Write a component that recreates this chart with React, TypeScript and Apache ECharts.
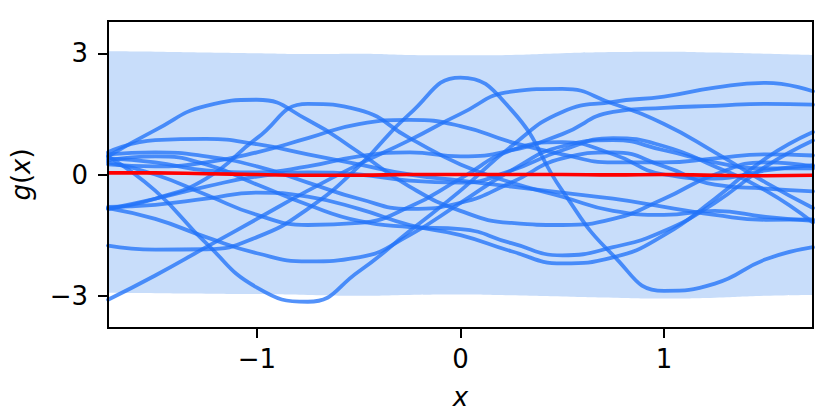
import React, { useEffect, useRef } from "react";
import * as echarts from "echarts";

const xs = [-1.732, -1.5, -1.25, -1.0, -0.75, -0.5, -0.25, 0, 0.25, 0.5, 0.75, 1.0, 1.25, 1.5, 1.732];

const bandUpper = [3.05, 3.04, 3.02, 3.0, 2.98, 2.99, 2.96, 2.95, 2.96, 3.0, 3.03, 3.04, 3.02, 2.99, 2.96];
const bandLower = [-2.93, -2.94, -2.95, -2.96, -2.98, -3.0, -2.98, -2.97, -2.99, -3.02, -3.05, -3.07, -3.05, -3.0, -2.98];
const meanLine = [0.04, 0.04, 0.02, 0.0, -0.02, -0.02, 0.0, 0.0, 0.0, 0.0, -0.01, 0.0, -0.02, -0.03, -0.02];

const s01 = [0.45, 1.1, 1.7, 1.85, 1.35, 0.55, -0.3, -0.9, -1.2, -1.25, -1.1, -0.6, 0.0, 0.3, 0.2];
const s02 = [-0.85, -0.6, -0.1, 0.9, 1.75, 1.6, 0.9, 0.25, -0.2, -0.55, -0.9, -1.0, -0.9, -1.05, -1.15];
const s03 = [-3.1, -2.5, -1.8, -1.1, -0.4, 0.25, 0.85, 1.5, 2.05, 2.12, 1.75, 1.25, 0.55, -0.2, -0.83];
const s04 = [0.45, -0.4, -1.7, -2.8, -3.15, -2.4, -1.4, -0.4, 0.7, 1.55, 1.8, 1.93, 2.15, 2.27, 2.06];
const s05 = [-0.83, -1.1, -1.55, -1.95, -2.15, -2.05, -1.5, -0.7, 0.1, 0.7, 0.85, 0.6, 0.3, 0.15, 0.15];
const s06 = [-1.76, -1.86, -1.85, -1.55, -0.85, 0.2, 1.5, 2.4, 1.6, -0.4, -2.0, -2.88, -2.7, -2.1, -1.8];
const s07 = [0.35, 0.45, 0.25, -0.25, -0.75, -1.15, -1.3, -1.35, -1.7, -2.0, -1.8, -1.4, -0.7, 0.2, 0.84];
const s08 = [-0.8, -0.75, -0.6, -0.45, -0.55, -0.85, -1.25, -1.5, -1.9, -2.2, -2.05, -1.5, -0.6, 0.4, 1.05];
const s09 = [0.55, 0.85, 0.88, 0.75, 0.5, 0.25, 0.0, -0.15, -0.3, -0.45, -0.6, -0.8, -1.0, -1.12, -1.11];
const s10 = [0.25, 0.2, 0.3, 0.55, 0.9, 1.25, 1.35, 1.2, 0.8, 0.5, 0.3, 0.3, 0.4, 0.5, 0.47];
const s11 = [0.4, 0.3, 0.1, 0.05, 0.2, 0.45, 0.55, 0.45, 0.6, 1.0, 1.55, 1.65, 1.7, 1.75, 1.73];
const s12 = [0.5, 0.55, 0.45, 0.2, -0.2, -0.6, -0.85, -0.7, -0.2, 0.4, 0.55, 0.2, -0.25, -0.35, -0.42];
const s13 = [-0.85, -0.6, -0.3, -0.05, 0.05, 0.0, -0.15, -0.2, 0.1, 0.6, 0.9, 0.7, 0.2, -0.4, -1.19];
const s14 = [0.3, 0.0, -0.5, -1.0, -1.25, -1.2, -0.8, -0.1, 0.6, 0.8, 0.5, 0.0, -0.1, 0.1, 0.23];

const samples = [s01, s02, s03, s04, s05, s06, s07, s08, s09, s10, s11, s12, s13, s14];

const xTicks = [-1, 0, 1];
const yTicks = [-3, 0, 3];

const fmt = (v: number) => (v < 0 ? "\u2212" + Math.abs(v) : String(v));
const FONT = "DejaVu Sans";
const FS = 26;

export default function App() {
  const ref = useRef<HTMLDivElement>(null);
  useEffect(() => {
    if (!ref.current) return;
    const chart = echarts.init(ref.current, null, { renderer: "svg" });
    const pair = (arr: number[]) => xs.map((x, i) => [x, arr[i]]);
    const series: any[] = [
      {
        type: "line",
        data: pair(bandUpper),
        symbol: "none",
        smooth: true,
        lineStyle: { opacity: 0 },
        areaStyle: { color: "#c8ddfa", opacity: 1, origin: "start" },
        silent: true,
        z: 1,
      },
      {
        type: "line",
        data: pair(bandLower),
        symbol: "none",
        smooth: true,
        lineStyle: { opacity: 0 },
        areaStyle: { color: "#ffffff", opacity: 1, origin: "start" },
        silent: true,
        z: 1,
      },
      ...samples.map((s) => ({
        type: "line",
        data: pair(s),
        symbol: "none",
        smooth: 0.5,
        lineStyle: { color: "rgb(35,115,248)", width: 3.8, opacity: 0.78, cap: "round", join: "round" },
        z: 2,
      })),
      {
        type: "line",
        data: pair(meanLine),
        symbol: "none",
        smooth: true,
        lineStyle: { color: "#ff0000", width: 3.6 },
        z: 3,
      },
    ];
    chart.setOption({
      animation: false,
      backgroundColor: "#ffffff",
      grid: {
        left: 108,
        right: 17,
        top: 21,
        bottom: 83,
        show: true,
        borderColor: "#000",
        borderWidth: 2,
        backgroundColor: "transparent",
        z: 10,
      },
      xAxis: {
        type: "value",
        min: -1.732,
        max: 1.732,
        axisLine: { show: false, onZero: false },
        splitLine: { show: false },
        axisTick: { show: true, length: 10, customValues: xTicks, lineStyle: { color: "#000", width: 2 } },
        axisLabel: {
          customValues: xTicks,
          formatter: fmt,
          margin: 18,
          color: "#000",
          fontFamily: FONT,
          fontSize: FS,
        },
        name: "x",
        nameLocation: "middle",
        nameGap: 56,
        nameTextStyle: { color: "#000", fontFamily: FONT, fontSize: FS, fontStyle: "italic" },
      },
      yAxis: {
        type: "value",
        min: -3.8,
        max: 3.8,
        axisLine: { show: false, onZero: false },
        splitLine: { show: false },
        axisTick: { show: true, length: 10, customValues: yTicks, lineStyle: { color: "#000", width: 2 } },
        axisLabel: {
          customValues: yTicks,
          formatter: fmt,
          margin: 20,
          color: "#000",
          fontFamily: FONT,
          fontSize: FS,
        },
        name: "{i|g}({i|x})",
        nameLocation: "middle",
        nameRotate: 90,
        nameGap: 74,
        nameTextStyle: {
          color: "#000",
          fontFamily: FONT,
          fontSize: FS,
          rich: { i: { fontStyle: "italic", fontFamily: FONT, fontSize: FS, color: "#000" } },
        },
      },
      series,
    });
    return () => chart.dispose();
  }, []);
  return (
    <div
      ref={ref}
      style={{ position: "fixed", left: 0, top: 0, width: 830, height: 415 }}
    />
  );
}
